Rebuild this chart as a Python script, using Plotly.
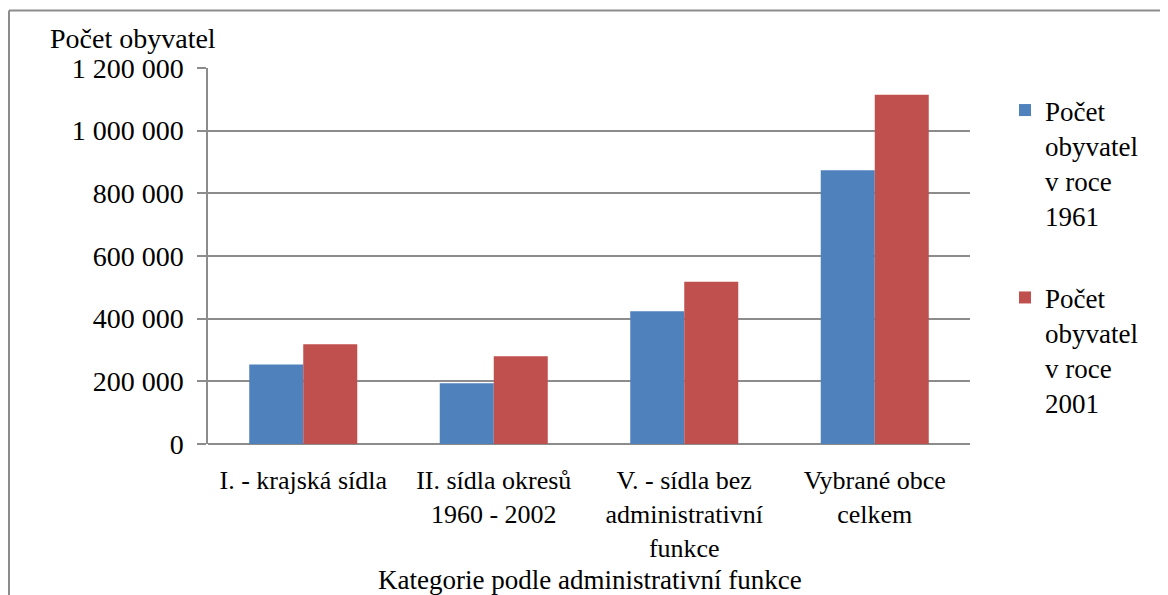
import plotly.graph_objects as go

categories = ["I. - krajská sídla", "II. sídla okresů<br>1960 - 2002",
              "V. - sídla bez<br>administrativní<br>funkce", "Vybrané obce<br>celkem"]
series_names = ["Počet<br>obyvatel<br>v roce<br>1961", "Počet<br>obyvatel<br>v roce<br>2001"]
values_1961 = [254000, 194000, 424000, 874000]
values_2001 = [318000, 280000, 518000, 1115000]
colors = ["#4F81BD", "#C0504D"]
y_title = "Počet obyvatel"
x_title = "Kategorie podle administrativní funkce"

OFF = 8  # default page body margin
W, H = 1168 - OFF, 595 - OFF
# plot area in page pixels: left 208, right 970, top 68, bottom 444
L, R, T, B = 208 - OFF, 1168 - 970, 68 - OFF, 595 - 444
pw, ph = W - L - R, H - T - B

def px_x(px):
    return (px - OFF - L) / pw

def px_y(py):
    return (H - B - (py - OFF)) / ph

FONT = "Liberation Serif"
GRID = "#8c8c8c"

fig = go.Figure()
for i, (name, vals) in enumerate(zip(series_names, [values_1961, values_2001])):
    fig.add_trace(go.Bar(x=categories, y=vals, name=name, marker_color=colors[i],
                         marker_line_width=0, legendgroup=str(i)))

fig.update_layout(
    width=W, height=H,
    margin=dict(l=L, r=R, t=T, b=B),
    paper_bgcolor="white", plot_bgcolor="white",
    barmode="group", bargap=0.433, bargroupgap=0,
    separators=", ",
    font=dict(family=FONT, size=28, color="black"),
    legend=dict(x=px_x(1005), xanchor="left", y=px_y(86), yanchor="top",
                font=dict(family=FONT, size=27), valign="top", traceorder="grouped",
                tracegroupgap=44, bgcolor="rgba(0,0,0,0)"),
    xaxis=dict(showgrid=False, showline=False, ticks="", zeroline=False,
               tickfont=dict(family=FONT, size=26), ticklabelstandoff=18),
    yaxis=dict(range=[0, 1200000], dtick=200000, tickformat=",d",
               showgrid=True, gridcolor=GRID, gridwidth=1.5,
               showline=True, linecolor=GRID, linewidth=1.5,
               ticks="outside", ticklen=9, tickcolor=GRID, tickwidth=1.5,
               zeroline=True, zerolinecolor=GRID, zerolinewidth=1.5,
               tickfont=dict(family=FONT, size=28), ticklabelstandoff=8),
    annotations=[
        dict(text=y_title, x=px_x(48), y=px_y(39), xref="paper", yref="paper",
             xanchor="left", yanchor="middle", showarrow=False,
             font=dict(family=FONT, size=28)),
        dict(text=x_title, x=px_x(590), y=px_y(580), xref="paper", yref="paper",
             xanchor="center", yanchor="middle", showarrow=False,
             font=dict(family=FONT, size=27)),
    ],
    shapes=[
        dict(type="line", xref="paper", yref="paper", x0=px_x(9), x1=px_x(1170),
             y0=px_y(10.5), y1=px_y(10.5), line=dict(color=GRID, width=2)),
        dict(type="line", xref="paper", yref="paper", x0=px_x(9), x1=px_x(9),
             y0=px_y(10.5), y1=px_y(597), line=dict(color=GRID, width=2)),
    ],
)

fig.write_html("out.html")
